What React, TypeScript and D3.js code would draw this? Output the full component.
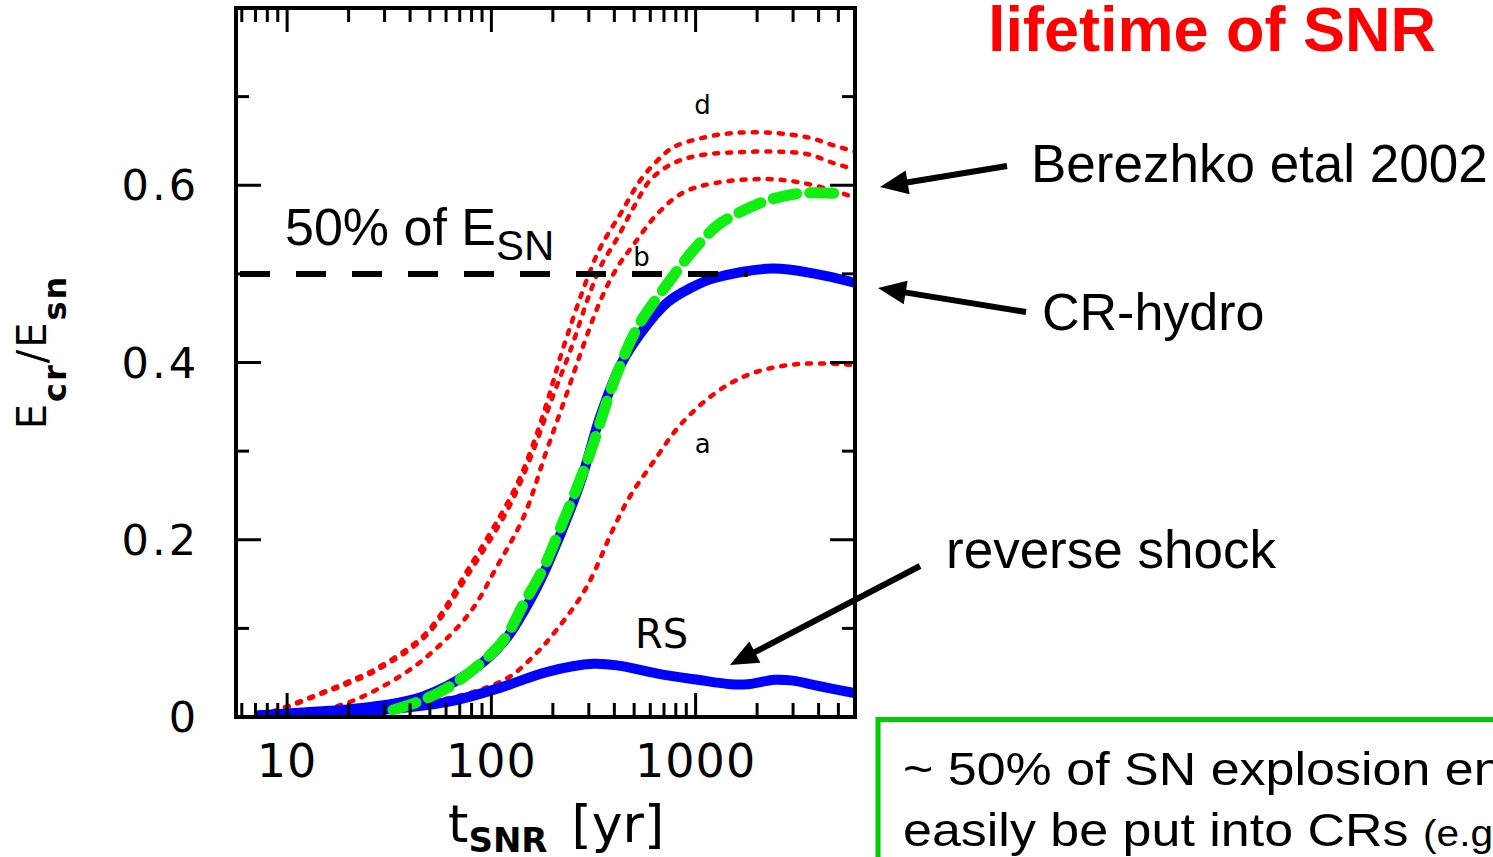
import { useEffect, useRef } from "react";
import * as d3 from "d3";

type Pt = [number, number]; // [t in yr, Ecr/Esn]

// red dotted model curves (Berezhko et al 2002), labelled d, c, b, a
const redD: Pt[] = [
  [8.5, 0.006], [10, 0.012], [15, 0.028], [20, 0.04], [28, 0.056], [48, 0.095],
  [78, 0.169], [122, 0.245], [144, 0.28], [170, 0.325], [190, 0.36], [223, 0.414],
  [296, 0.496], [342, 0.53], [429, 0.568], [538, 0.606], [651, 0.628], [780, 0.643],
  [1059, 0.653], [1535, 0.659], [2410, 0.659], [3540, 0.654], [4745, 0.645], [6000, 0.638],
];
const redC: Pt[] = [
  [8.5, 0.006], [10, 0.011], [15, 0.027], [20, 0.038], [28, 0.054], [48, 0.092],
  [78, 0.163], [122, 0.237], [160, 0.3], [200, 0.362], [244, 0.414], [300, 0.475],
  [342, 0.508], [415, 0.541], [497, 0.575], [601, 0.606], [780, 0.625], [1059, 0.634],
  [1535, 0.637], [2410, 0.638], [3540, 0.635], [4745, 0.625], [6000, 0.618],
];
const redB: Pt[] = [
  [8.5, 0.004], [12, 0.007], [17.4, 0.012], [27, 0.03], [46, 0.064], [78, 0.117],
  [106, 0.169], [144, 0.226], [186, 0.3], [230, 0.36], [273, 0.41], [342, 0.47],
  [415, 0.508], [497, 0.533], [651, 0.568], [873, 0.592], [1283, 0.603], [2253, 0.607],
  [3273, 0.603], [4745, 0.594], [6000, 0.586],
];
const redA: Pt[] = [
  [9, 0.003], [25, 0.008], [46, 0.016], [78, 0.027], [122, 0.045], [166, 0.072],
  [208, 0.098], [290, 0.145], [400, 0.215], [480, 0.25], [622, 0.288], [844, 0.33],
  [1239, 0.365], [1800, 0.386], [2640, 0.396], [3870, 0.399], [6000, 0.397],
];

// CR-hydro (blue), forward shock and reverse shock
const hydroFS: Pt[] = [
  [7.3, 0.002], [12, 0.005], [25, 0.011], [46, 0.023], [78, 0.05], [115, 0.085],
  [166, 0.145], [208, 0.195], [273, 0.265], [342, 0.34], [429, 0.397], [538, 0.433],
  [729, 0.468], [944, 0.484], [1225, 0.495], [2360, 0.506], [3870, 0.5], [6000, 0.49],
];
const hydroRS: Pt[] = [
  [7.3, 0.002], [28.6, 0.008], [61, 0.017], [107, 0.032], [188, 0.051], [316, 0.06],
  [420, 0.058], [651, 0.049], [1024, 0.042], [1486, 0.037], [1800, 0.037], [2440, 0.042],
  [3000, 0.041], [4000, 0.035], [6000, 0.027],
];

// green thick dashed comparison curve
const greenCurve: Pt[] = [
  [33, 0.008], [46, 0.019], [62, 0.034], [84, 0.056], [115, 0.087], [144, 0.128],
  [180, 0.168], [208, 0.202], [296, 0.29], [396, 0.377], [520, 0.44], [729, 0.489],
  [977, 0.527], [1283, 0.555], [1535, 0.566], [2253, 0.583], [3273, 0.591], [4745, 0.591],
];

const halfLevel = 0.5;
const xTickLabels = [10, 100, 1000];
const yTickLabels = [0, 0.2, 0.4, 0.6];
const yTicks = [0.1, 0.2, 0.3, 0.4, 0.5, 0.6, 0.7];
const curveLabels = [
  { text: "d", t: 1082, v: 0.69 },
  { text: "b", t: 543, v: 0.519 },
  { text: "a", t: 1082, v: 0.308 },
];

const W = 1493;
const H = 857;

export default function App() {
  const svgRef = useRef<SVGSVGElement | null>(null);

  useEffect(() => {
    const svg = d3.select(svgRef.current);
    svg.selectAll("*").remove();

    const left = 236, right = 855, top = 8, bottom = 717;
    const x = d3.scaleLog().domain([5.62, 6030]).range([left, right]);
    const y = d3.scaleLinear().domain([0, 0.8]).range([bottom, top]);
    const axisFont = "'DejaVu Sans', sans-serif";
    const textFont = "'Liberation Sans', Arial, sans-serif";

    svg.append("defs").append("clipPath").attr("id", "plotClip")
      .append("rect").attr("x", left).attr("y", top)
      .attr("width", right - left).attr("height", bottom - top);

    const line = d3.line<Pt>()
      .x((d) => x(d[0]))
      .y((d) => y(d[1]))
      .curve(d3.curveCatmullRom.alpha(0.5));

    const plot = svg.append("g").attr("clip-path", "url(#plotClip)");

    [redD, redC, redB, redA].forEach((s) => {
      plot.append("path").attr("d", line(s)!)
        .attr("fill", "none").attr("stroke", "#ff0000")
        .attr("stroke-width", 4.5).attr("stroke-linecap", "round")
        .attr("stroke-dasharray", "4 9");
    });

    [hydroFS, hydroRS].forEach((s) => {
      plot.append("path").attr("d", line(s)!)
        .attr("fill", "none").attr("stroke", "#0000ff")
        .attr("stroke-width", 10).attr("stroke-linecap", "round");
    });

    // 50% of E_SN level
    plot.append("line")
      .attr("x1", left + 4).attr("x2", x(1800))
      .attr("y1", y(halfLevel)).attr("y2", y(halfLevel))
      .attr("stroke", "#000").attr("stroke-width", 6)
      .attr("stroke-dasharray", "30 26");

    plot.append("path").attr("d", line(greenCurve)!)
      .attr("fill", "none").attr("stroke", "#11ee11")
      .attr("stroke-width", 11).attr("stroke-linecap", "round")
      .attr("stroke-dasharray", "24 13");

    // frame and ticks
    const ax = svg.append("g").attr("stroke", "#000");
    ax.append("rect").attr("x", left).attr("y", top)
      .attr("width", right - left).attr("height", bottom - top)
      .attr("fill", "none").attr("stroke-width", 4);

    x.ticks().forEach((t) => {
      const major = Math.abs(Math.log10(t) - Math.round(Math.log10(t))) < 1e-9;
      const len = major ? 24 : 14;
      const px = x(t);
      if (px <= left + 1 || px >= right - 1) return;
      ax.append("line").attr("x1", px).attr("x2", px)
        .attr("y1", bottom).attr("y2", bottom - len).attr("stroke-width", 3);
      ax.append("line").attr("x1", px).attr("x2", px)
        .attr("y1", top).attr("y2", top + len).attr("stroke-width", 3);
    });

    yTicks.forEach((v) => {
      const major = Math.abs(v * 5 - Math.round(v * 5)) < 1e-9;
      const len = major ? 25 : 13;
      ax.append("line").attr("x1", left).attr("x2", left + len)
        .attr("y1", y(v)).attr("y2", y(v)).attr("stroke-width", 3);
      ax.append("line").attr("x1", right).attr("x2", right - len)
        .attr("y1", y(v)).attr("y2", y(v)).attr("stroke-width", 3);
    });

    svg.append("g").selectAll("text").data(xTickLabels).join("text")
      .attr("x", (d) => x(d)).attr("y", 777)
      .attr("text-anchor", "middle")
      .attr("font-family", axisFont).attr("font-size", 46)
      .attr("letter-spacing", 1)
      .text((d) => String(d));

    svg.append("g").selectAll("text").data(yTickLabels).join("text")
      .attr("x", 199).attr("y", (d) => y(d) + 15)
      .attr("text-anchor", "end")
      .attr("font-family", axisFont).attr("font-size", 43)
      .attr("letter-spacing", 3)
      .text((d) => String(d));

    // x axis title
    const xt = svg.append("text").attr("x", 448).attr("y", 842)
      .attr("font-family", axisFont).attr("font-size", 52);
    xt.append("tspan").text("t");
    xt.append("tspan").attr("font-size", 34).attr("font-weight", "bold")
      .attr("dy", 10).text("SNR");
    xt.append("tspan").attr("dx", 24).attr("dy", -10).text("[yr]");

    // y axis title
    const yt = svg.append("text")
      .attr("transform", "translate(46,352) rotate(-90)")
      .attr("text-anchor", "middle")
      .attr("font-family", axisFont).attr("font-size", 40)
      .attr("letter-spacing", 2);
    yt.append("tspan").text("E");
    yt.append("tspan").attr("font-size", 32).attr("font-weight", "bold")
      .attr("dy", 20).text("cr");
    yt.append("tspan").attr("dy", -20).text("/E");
    yt.append("tspan").attr("font-size", 32).attr("font-weight", "bold")
      .attr("dy", 20).text("sn");

    // curve labels
    svg.append("g").selectAll("text").data(curveLabels).join("text")
      .attr("x", (d) => x(d.t)).attr("y", (d) => y(d.v))
      .attr("text-anchor", "middle").attr("dominant-baseline", "central")
      .attr("font-family", axisFont).attr("font-size", 26)
      .text((d) => d.text);

    svg.append("text").attr("x", x(681)).attr("y", 648)
      .attr("text-anchor", "middle")
      .attr("font-family", axisFont).attr("font-size", 40)
      .text("RS");

    const half = svg.append("text").attr("x", 285).attr("y", 245)
      .attr("font-family", textFont).attr("font-size", 52);
    half.append("tspan").text("50% of E");
    half.append("tspan").attr("font-size", 42).attr("dy", 15).text("SN");

    // annotations
    svg.append("text").attr("x", 988).attr("y", 51)
      .attr("font-family", textFont).attr("font-size", 63)
      .attr("font-weight", "bold").attr("fill", "#ff0000")
      .text("lifetime of SNR");

    const ann = [
      { text: "Berezhko etal 2002", x: 1031, y: 182, s: 53 },
      { text: "CR-hydro", x: 1042, y: 330, s: 52 },
      { text: "reverse shock", x: 946, y: 568, s: 53 },
    ];
    svg.append("g").selectAll("text").data(ann).join("text")
      .attr("x", (d) => d.x).attr("y", (d) => d.y)
      .attr("font-family", textFont).attr("font-size", (d) => d.s)
      .text((d) => d.text);

    const arrows = [
      { x1: 1007, y1: 166, x2: 880, y2: 187 },
      { x1: 1026, y1: 312, x2: 878, y2: 288 },
      { x1: 920, y1: 566, x2: 730, y2: 665 },
    ];
    arrows.forEach((a) => {
      const ang = Math.atan2(a.y2 - a.y1, a.x2 - a.x1);
      const hl = 28, hw = 12;
      const bx = a.x2 - hl * Math.cos(ang), by = a.y2 - hl * Math.sin(ang);
      svg.append("line").attr("x1", a.x1).attr("y1", a.y1)
        .attr("x2", bx + 4 * Math.cos(ang)).attr("y2", by + 4 * Math.sin(ang))
        .attr("stroke", "#000").attr("stroke-width", 6);
      const pts: [number, number][] = [
        [a.x2, a.y2],
        [bx - hw * Math.sin(ang), by + hw * Math.cos(ang)],
        [bx + hw * Math.sin(ang), by - hw * Math.cos(ang)],
      ];
      svg.append("polygon").attr("points", pts.map((p) => p.join(",")).join(" "))
        .attr("fill", "#000");
    });

    // green summary box (runs off the right edge, as in the slide)
    svg.append("rect").attr("x", 878).attr("y", 719.5)
      .attr("width", 700).attr("height", 200)
      .attr("fill", "none").attr("stroke", "#00cc00").attr("stroke-width", 5);

    svg.append("text").attr("transform", "translate(903,785) scale(1.13,1)")
      .attr("font-family", textFont).attr("font-size", 46)
      .text("~ 50% of SN explosion energy can");
    const l2 = svg.append("text").attr("transform", "translate(903,846) scale(1.13,1)")
      .attr("font-family", textFont).attr("font-size", 46);
    l2.append("tspan").text("easily be put into CRs ");
    l2.append("tspan").attr("font-size", 36).text("(e.g. Berezhko)");
  }, []);

  return (
    <svg
      ref={svgRef}
      width={W}
      height={H}
      style={{ position: "absolute", left: 0, top: 0, background: "#fff" }}
    />
  );
}
